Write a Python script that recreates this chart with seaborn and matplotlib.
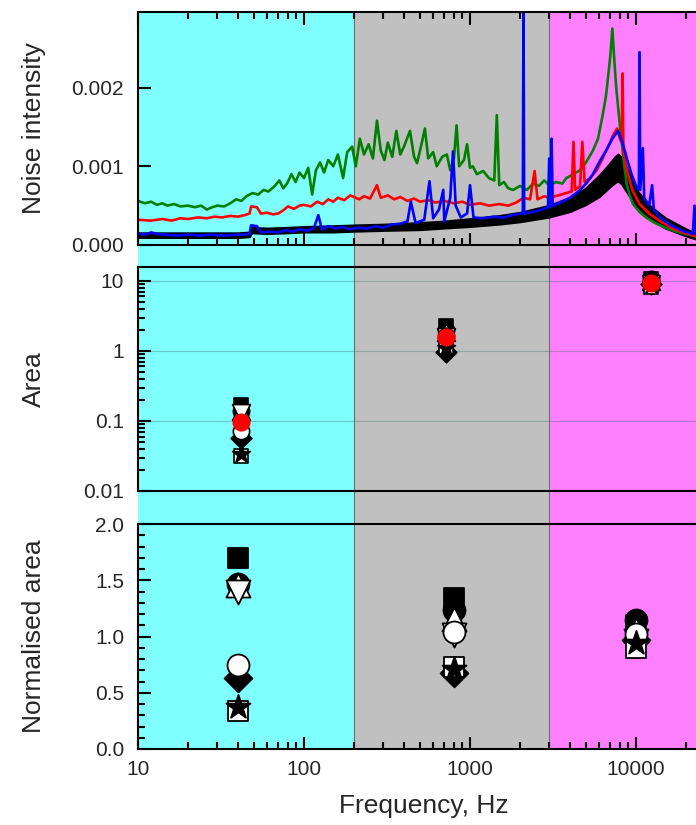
import matplotlib
matplotlib.use('Agg')
import matplotlib.pyplot as plt
import matplotlib.ticker as mticker
import seaborn as sns

# ---------------- data ----------------
green_f = [10, 11, 12, 13, 14, 15, 16.5, 18, 20, 22, 24, 26, 28, 30, 33, 36, 39, 42, 45, 49, 53, 57, 61, 66,
           71, 75, 79, 84, 89, 94, 100, 106, 112, 118, 125, 132, 140, 150, 160, 172, 182, 195, 205, 217, 230,
           245, 260, 275, 290, 305, 320, 340, 360, 380, 400, 435, 460, 480, 510, 535, 560, 600, 630, 680, 725,
           760, 800, 830, 860, 920, 960, 1000, 1040, 1100, 1200, 1300, 1400, 1450, 1500, 1600, 1700, 1820, 2000,
           2200, 2400, 2600, 2800, 3000, 3300, 3600, 3800, 4200, 4600, 5000, 5500, 5900, 6300, 6600, 6800, 7000,
           7200, 7400, 7600, 7800, 8000, 8400, 8800, 9200, 9600, 10500, 11500, 13000, 15000, 17500, 20000, 23000]
green_v = [0.00056, 0.00053, 0.00055, 0.00051, 0.00053, 0.00050, 0.00052, 0.00049, 0.00050, 0.00048, 0.00050,
           0.00045, 0.00048, 0.00050, 0.00049, 0.00053, 0.00058, 0.00056, 0.00062, 0.00066, 0.00064, 0.00070,
           0.00068, 0.00074, 0.00082, 0.00072, 0.00078, 0.00090, 0.00080, 0.00092, 0.00085, 0.00098, 0.00064,
           0.00095, 0.00105, 0.00092, 0.00108, 0.00100, 0.00115, 0.00085, 0.00118, 0.00125, 0.00100, 0.00135,
           0.00115, 0.00128, 0.00110, 0.00158, 0.00120, 0.00108, 0.00130, 0.00112, 0.00145, 0.00115, 0.00125,
           0.00145, 0.00112, 0.00104, 0.00128, 0.00148, 0.00110, 0.00118, 0.00100, 0.00112, 0.00115, 0.00095,
           0.00110, 0.00152, 0.00100, 0.00108, 0.00128, 0.00098, 0.00100, 0.00090, 0.00094, 0.00085, 0.00082,
           0.00165, 0.00076, 0.00080, 0.00072, 0.00070, 0.00075, 0.00070, 0.00078, 0.00075, 0.00082, 0.00076,
           0.00080, 0.00078, 0.00085, 0.00090, 0.00095, 0.00105, 0.00120, 0.00135, 0.00165, 0.00190, 0.00215,
           0.00240, 0.00275, 0.00235, 0.00200, 0.00175, 0.00152, 0.00110, 0.00076, 0.00062, 0.00052, 0.00042,
           0.00035, 0.00028, 0.00022, 0.00017, 0.00014, 0.00011]

red_f = [10, 12, 14, 16, 18, 20, 23, 26, 29, 32, 36, 40, 44, 47, 48, 52, 55, 60, 65, 70, 75, 80, 87, 94, 100,
         110, 120, 130, 140, 150, 160, 175, 190, 200, 215, 230, 250, 275, 290, 320, 350, 380, 420, 460, 500, 560,
         620, 700, 800, 900, 1000, 1150, 1300, 1500, 1700, 1900, 2100, 2300, 2450, 2550, 2800, 3000, 3400, 3800,
         4100, 4200, 4300, 4600, 4750, 4900, 5300, 5800, 6300, 6800, 7300, 7700, 8000, 8200, 8300, 8400, 8800,
         9500, 10500, 12000, 14000, 17000, 20000, 23000]
red_v = [0.00032, 0.00031, 0.00033, 0.00031, 0.00034, 0.00033, 0.00035, 0.00034, 0.00036, 0.00035, 0.00037,
         0.00036, 0.00038, 0.00040, 0.00049, 0.00048, 0.00040, 0.00041, 0.00039, 0.00040, 0.00044, 0.00049,
         0.00046, 0.00050, 0.00051, 0.00049, 0.00055, 0.00052, 0.00058, 0.00055, 0.00060, 0.00057, 0.00063,
         0.00061, 0.00058, 0.00062, 0.00059, 0.00076, 0.00060, 0.00063, 0.00058, 0.00061, 0.00056, 0.00059,
         0.00055, 0.00057, 0.00054, 0.00056, 0.00053, 0.00055, 0.00051, 0.00053, 0.00050, 0.00052, 0.00050,
         0.00054, 0.00060, 0.00058, 0.00094, 0.00058, 0.00062, 0.00060, 0.00063, 0.00066, 0.00068, 0.00131,
         0.00070, 0.00075, 0.00131, 0.00080, 0.00085, 0.00095, 0.00110, 0.00125, 0.00140, 0.00148, 0.00135,
         0.00130, 0.00218, 0.00120, 0.00095, 0.00070, 0.00052, 0.00040, 0.00030, 0.00020, 0.00015, 0.00011]

blue_f = [10, 11, 12, 13, 15, 17, 20, 24, 28, 33, 38, 43, 47, 48, 52, 55, 62, 70, 78, 86, 95, 105, 115, 122,
          128, 140, 155, 170, 190, 210, 240, 270, 300, 340, 380, 420, 440, 470, 530, 570, 600, 650, 690, 700,
          760, 790, 820, 880, 960, 1000, 1050, 1200, 1400, 1600, 1800, 2000, 2080, 2100, 2120, 2400, 2700, 2950,
          3000, 3050, 3100, 3150, 3500, 4000, 4500, 5000, 5500, 6000, 6600, 7200, 7800, 8300, 8800, 9400, 10000,
          10400, 10500, 10600, 11000, 11200, 12000, 12500, 12800, 14000, 16000, 19000, 22000, 22500, 23000]
blue_v = [0.00015, 0.00013, 0.00016, 0.00014, 0.00013, 0.00012, 0.00013, 0.00012, 0.00013, 0.00012, 0.00013,
          0.00013, 0.00014, 0.00025, 0.00024, 0.00016, 0.00017, 0.00016, 0.00019, 0.00017, 0.00020, 0.00018,
          0.00022, 0.00038, 0.00020, 0.00024, 0.00021, 0.00023, 0.00020, 0.00022, 0.00021, 0.00024, 0.00022,
          0.00026, 0.00027, 0.00030, 0.00055, 0.00028, 0.00032, 0.00081, 0.00034, 0.00045, 0.00070, 0.00030,
          0.00060, 0.00119, 0.00050, 0.00035, 0.00040, 0.00076, 0.00035, 0.00034, 0.00036, 0.00035, 0.00038,
          0.00040, 0.00040, 0.00320, 0.00040, 0.00042, 0.00045, 0.00048, 0.00110, 0.00048, 0.00135, 0.00050,
          0.00054, 0.00060, 0.00068, 0.00078, 0.00090, 0.00105, 0.00120, 0.00135, 0.00145, 0.00130, 0.00110,
          0.00090, 0.00075, 0.00070, 0.00245, 0.00070, 0.00123, 0.00060, 0.00050, 0.00076, 0.00045, 0.00035,
          0.00026, 0.00018, 0.00014, 0.00050, 0.00014]

black_f = [10, 15, 20, 30, 40, 47, 48, 60, 80, 100, 150, 200, 300, 500, 700, 1000, 1500, 2000, 3000, 4000,
           5000, 6000, 7000, 7500, 7800, 8200, 9000, 10000, 12000, 15000, 20000, 23000]
black_lo = [0.00010, 0.00010, 0.00010, 0.00010, 0.00010, 0.00011, 0.00016, 0.00015, 0.00016, 0.00017, 0.00017,
            0.00018, 0.00019, 0.00020, 0.00022, 0.00024, 0.00027, 0.00030, 0.00036, 0.00043, 0.00052, 0.00062,
            0.00075, 0.00080, 0.00082, 0.00078, 0.00065, 0.00050, 0.00035, 0.00022, 0.00012, 0.00008]
black_hi = [0.00015, 0.00015, 0.00015, 0.00015, 0.00015, 0.00016, 0.00022, 0.00021, 0.00022, 0.00023, 0.00024,
            0.00025, 0.00026, 0.00028, 0.00030, 0.00033, 0.00037, 0.00041, 0.00050, 0.00060, 0.00072, 0.00088,
            0.00104, 0.00112, 0.00115, 0.00110, 0.00092, 0.00070, 0.00050, 0.00034, 0.00020, 0.00014]

bands = [(10, 200), (200, 3000), (3000, 23000)]
band_colors = ['#80FFFF', '#C0C0C0', '#FF80FF']

area_f = [42, 720, 12300]
norm_f = [40, 800, 10000]
red_area = [0.096, 1.58, 9.3]

series_names = ['sq_filled', 'circ_filled', 'tri_up_open', 'tri_down_open',
                'diamond_filled', 'sq_open', 'circ_open', 'star_filled']
area_vals = {
    'sq_filled':      [0.168, 2.30, 10.5],
    'circ_filled':    [0.140, 2.00, 10.8],
    'tri_up_open':    [0.138, 1.85, 9.9],
    'tri_down_open':  [0.132, 1.60, 8.9],
    'diamond_filled': [0.058, 0.97, 9.0],
    'sq_open':        [0.032, 1.15, 8.3],
    'circ_open':      [0.072, 1.65, 9.5],
    'star_filled':    [0.034, 1.10, 8.6],
}
norm_vals = {
    'sq_filled':      [1.70, 1.34, 1.10],
    'circ_filled':    [1.47, 1.24, 1.15],
    'tri_up_open':    [1.46, 1.16, 1.06],
    'tri_down_open':  [1.40, 1.01, 0.96],
    'diamond_filled': [0.63, 0.68, 0.97],
    'sq_open':        [0.34, 0.73, 0.90],
    'circ_open':      [0.75, 1.04, 1.02],
    'star_filled':    [0.37, 0.71, 0.94],
}
styles = {
    'sq_filled':      ('s', 'black', 190),
    'circ_filled':    ('o', 'black', 250),
    'tri_up_open':    ('^', 'white', 300),
    'tri_down_open':  ('v', 'white', 300),
    'diamond_filled': ('D', 'black', 200),
    'sq_open':        ('s', 'white', 190),
    'circ_open':      ('o', 'white', 250),
    'star_filled':    ('*', 'black', 330),
}

x_ticks = [10, 100, 1000, 10000]
XMIN, XMAX = 10, 22980

# ---------------- style ----------------
sns.set_style('ticks')
plt.rcParams['font.family'] = ['Liberation Sans', 'DejaVu Sans']
plt.rcParams['axes.linewidth'] = 1.5

fig = plt.figure(figsize=(6.96, 8.25), dpi=100)
L = 138 / 696
W = 1 - L


def fy(px):
    return 1 - px / 825


TICK_FS = 15
LAB_FS = 19

# background bands spanning all panels
ax_bg = fig.add_axes([L, fy(749), W, fy(12) - fy(749)])
ax_bg.set_xscale('log')
ax_bg.set_xlim(XMIN, XMAX)
ax_bg.set_ylim(0, 1)
for (a, b), c in zip(bands, band_colors):
    ax_bg.axvspan(a, b, color=c, lw=0, zorder=0)
for (a, b) in bands[1:]:
    ax_bg.axvline(a, color='#707070', lw=0.8, zorder=1)
ax_bg.axis('off')

ax1 = fig.add_axes([L, fy(245), W, fy(12) - fy(245)])
ax2 = fig.add_axes([L, fy(491), W, fy(267) - fy(491)])
ax3 = fig.add_axes([L, fy(749), W, fy(524) - fy(749)])

for ax in (ax1, ax2, ax3):
    ax.set_facecolor('none')
    ax.set_xscale('log')
    ax.set_xlim(XMIN, XMAX)
    ax.spines['right'].set_visible(False)
    for s in ('top', 'bottom', 'left'):
        ax.spines[s].set_linewidth(1.5)
        ax.spines[s].set_color('black')
    ax.xaxis.set_major_locator(mticker.FixedLocator(x_ticks))
    ax.xaxis.set_minor_locator(mticker.LogLocator(base=10, subs=range(2, 10), numticks=20))
    ax.xaxis.set_minor_formatter(mticker.NullFormatter())

# ---- top panel: spectra ----
sns.lineplot(x=green_f, y=green_v, color='#008000', lw=1.9, ax=ax1, estimator=None, sort=False)
sns.lineplot(x=red_f, y=red_v, color='#FF0000', lw=1.9, ax=ax1, estimator=None, sort=False)
sns.lineplot(x=blue_f, y=blue_v, color='#0000FF', lw=1.9, ax=ax1, estimator=None, sort=False)
ax1.fill_between(black_f, black_lo, black_hi, color='black', lw=2.0)
ax1.set_ylim(0, 0.00296)
ax1.set_yticks([0, 0.001, 0.002])
ax1.yaxis.set_major_formatter(mticker.FuncFormatter(lambda v, p: f'{v:.3f}'))
ax1.tick_params(axis='x', which='both', direction='in', top=True, bottom=True,
                labelbottom=False, width=1.5, color='black')
ax1.tick_params(axis='x', which='major', length=9)
ax1.tick_params(axis='x', which='minor', length=5)
ax1.tick_params(axis='y', which='major', direction='in', length=9, width=1.5,
                labelsize=TICK_FS, pad=10, color='black')
ax1.set_ylabel('Noise intensity', fontsize=LAB_FS)

# ---- middle panel: area ----
for name in series_names:
    m, fc, s = styles[name]
    sns.scatterplot(x=area_f, y=area_vals[name], marker=m, s=s * 0.55, color=fc,
                    edgecolor='black', linewidth=1.2, ax=ax2, zorder=3)
sns.scatterplot(x=area_f, y=red_area, marker='o', s=170, color='#FF0000',
                edgecolor='#FF0000', linewidth=0, ax=ax2, zorder=4)
ax2.set_yscale('log')
ax2.set_ylim(0.01, 15.8)
ax2.set_yticks([0.01, 0.1, 1, 10])
ax2.yaxis.set_major_formatter(mticker.FuncFormatter(lambda v, p: f'{v:g}'))
ax2.yaxis.set_minor_locator(mticker.LogLocator(base=10, subs=range(2, 10), numticks=20))
ax2.yaxis.set_minor_formatter(mticker.NullFormatter())
ax2.yaxis.grid(True, which='major', color='#3a6a6a', alpha=0.35, lw=0.8)
ax2.set_axisbelow(True)
ax2.tick_params(axis='x', which='both', length=0, labelbottom=False)
ax2.tick_params(axis='y', which='both', direction='in', width=1.5, color='black',
                labelsize=TICK_FS, pad=10)
ax2.tick_params(axis='y', which='major', length=9)
ax2.tick_params(axis='y', which='minor', length=5)
ax2.set_ylabel('Area', fontsize=LAB_FS)

# ---- bottom panel: normalised area ----
for name in series_names:
    m, fc, s = styles[name]
    sns.scatterplot(x=norm_f, y=norm_vals[name], marker=m, s=s, color=fc,
                    edgecolor='black', linewidth=1.3, ax=ax3, zorder=3)
ax3.set_ylim(0, 2.0)
ax3.yaxis.set_major_locator(mticker.MultipleLocator(0.5))
ax3.yaxis.set_minor_locator(mticker.MultipleLocator(0.1))
ax3.yaxis.set_major_formatter(mticker.FuncFormatter(lambda v, p: f'{v:.1f}'))
ax3.xaxis.set_major_formatter(mticker.FuncFormatter(lambda v, p: f'{int(round(v))}'))
ax3.tick_params(axis='both', which='both', direction='in', width=1.5, color='black',
                labelsize=TICK_FS)
ax3.tick_params(axis='both', which='major', length=9)
ax3.tick_params(axis='both', which='minor', length=5)
ax3.tick_params(axis='y', pad=10)
ax3.tick_params(axis='x', pad=8)
ax3.set_ylabel('Normalised area', fontsize=LAB_FS)
ax3.set_xlabel('Frequency, Hz', fontsize=LAB_FS)
ax3.xaxis.set_label_coords(0.513, -0.20)

for ax in (ax1, ax2, ax3):
    ax.yaxis.set_label_coords(-0.165, 0.5)

fig.savefig('out.png', dpi=100)
